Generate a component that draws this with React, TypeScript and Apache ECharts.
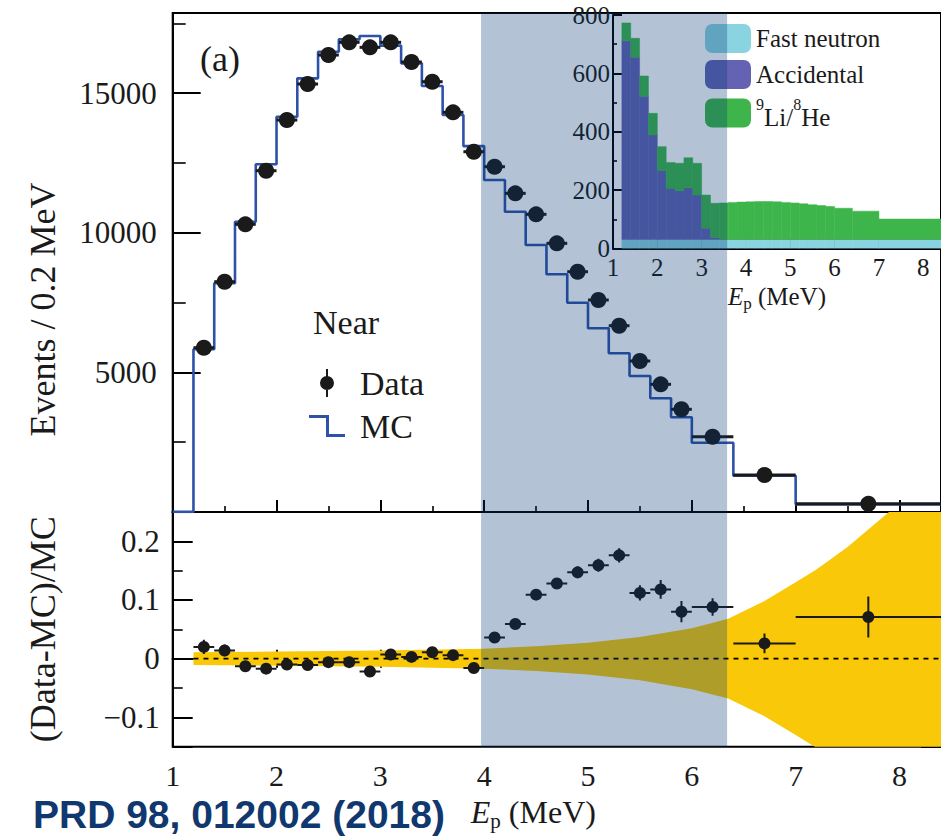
import React, { useEffect, useRef } from 'react';
import * as echarts from 'echarts';

// ---------- data ----------
const xMin = 1;
const xMax = 8.4;
const binLo = [1.2, 1.4, 1.6, 1.8, 2.0, 2.2, 2.4, 2.6, 2.8, 3.0, 3.2, 3.4, 3.6, 3.8, 4.0, 4.2, 4.4, 4.6, 4.8, 5.0, 5.2, 5.4, 5.6, 5.8, 6.0, 6.4, 7.0];
const binHi = [1.4, 1.6, 1.8, 2.0, 2.2, 2.4, 2.6, 2.8, 3.0, 3.2, 3.4, 3.6, 3.8, 4.0, 4.2, 4.4, 4.6, 4.8, 5.0, 5.2, 5.4, 5.6, 5.8, 6.0, 6.4, 7.0, 8.4];
const binCenter = [1.3, 1.5, 1.7, 1.9, 2.1, 2.3, 2.5, 2.7, 2.9, 3.1, 3.3, 3.5, 3.7, 3.9, 4.1, 4.3, 4.5, 4.7, 4.9, 5.1, 5.3, 5.5, 5.7, 5.9, 6.2, 6.7, 7.7];
const dataEvents = [5881, 8245, 10301, 12221, 14036, 15326, 16364, 16819, 16640, 16819, 16114, 15408, 14312, 12901, 12364, 11411, 10659, 9620, 8603, 7590, 6669, 5405, 4570, 3675, 2693, 1322, 290];
const mcEvents = [5824, 8188, 10394, 12450, 14155, 15530, 16483, 16927, 17045, 16700, 16067, 15254, 14216, 13100, 11887, 10752, 9559, 8510, 7493, 6576, 5681, 4867, 4069, 3388, 2479, 1297, 270];
const ratio = [0.020, 0.014, -0.013, -0.017, -0.010, -0.011, -0.006, -0.006, -0.022, 0.007, 0.003, 0.011, 0.006, -0.016, 0.036, 0.059, 0.109, 0.128, 0.147, 0.159, 0.176, 0.112, 0.118, 0.080, 0.088, 0.026, 0.071];
const ratioErr = [0.012, 0.010, 0.008, 0.007, 0.007, 0.007, 0.007, 0.007, 0.007, 0.007, 0.007, 0.007, 0.008, 0.008, 0.008, 0.008, 0.009, 0.009, 0.010, 0.011, 0.012, 0.013, 0.016, 0.018, 0.015, 0.017, 0.035];
// MC uncertainty band (relative), half width vs energy
const bandE = [1.2, 2.0, 3.0, 4.0, 4.5, 5.0, 5.5, 6.0, 6.35, 6.7, 7.0, 7.2, 7.5, 7.9, 8.4];
const bandHalf = [0.011, 0.012, 0.014, 0.017, 0.021, 0.027, 0.037, 0.052, 0.068, 0.098, 0.130, 0.152, 0.190, 0.250, 0.330];
// inset backgrounds (events / bin)
const fastNeutron = [31, 31, 31, 31, 31, 31, 31, 31, 31, 31, 31, 31, 31, 31, 31, 31, 31, 31, 31, 31, 31, 31, 31, 31, 31, 31, 31];
const accidental = [681, 624, 491, 358, 236, 175, 167, 177, 152, 38, 7, 0, 0, 0, 0, 0, 0, 0, 0, 0, 0, 0, 0, 0, 0, 0, 0];
const liHe = [61, 65, 69, 74, 82, 89, 94, 103, 109, 114, 117, 125, 127, 128, 129, 130, 130, 129, 127, 125, 122, 119, 116, 113, 107, 97, 70];
const shadeRange = [3.97, 6.34];

// ---------- styles ----------
const SERIF = '"Liberation Serif", "Times New Roman", serif';
const INK = '#1a1a1a';
const MC_BLUE = '#2d52a8';
const SHADE = 'rgba(2,55,115,0.3)';
const YELLOW = '#f9c909';
const C_FAST = '#8ad3e0';
const C_ACC = '#6462b3';
const C_LI = '#3db54a';

const DATA_ICON = 'path://M0,14 A7,7 0 1 1 14,14 A7,7 0 1 1 0,14 Z M6,0 L8,0 L8,28 L6,28 Z';
const MC_ICON = 'path://M0,0 L20,0 L20,19 L36,19 L36,22 L17,22 L17,3 L0,3 Z';

const axisLineStyle = { color: '#000', width: 2 };
const tickStyle = { color: '#000', width: 2 };
const minorStyle = { color: '#000', width: 1.6 };

function shadeSeries(xi: number, yi: number, name: string) {
  return {
    type: 'custom',
    name,
    xAxisIndex: xi,
    yAxisIndex: yi,
    z: 10,
    silent: true,
    data: [shadeRange],
    encode: { x: [0, 1] },
    renderItem: (params: any, api: any) => {
      const cs = params.coordSys;
      const x0 = api.coord([api.value(0), 0])[0];
      const x1 = api.coord([api.value(1), 0])[0];
      return {
        type: 'rect',
        shape: { x: x0, y: cs.y, width: x1 - x0, height: cs.height },
        style: { fill: SHADE },
      };
    },
  };
}

function histSeries(name: string, color: string, base: number[], vals: number[]) {
  return {
    type: 'custom',
    name,
    xAxisIndex: 3,
    yAxisIndex: 3,
    z: 2,
    clip: true,
    itemStyle: { color },
    encode: { x: [0, 1], y: [2, 3] },
    data: binLo.map((lo, i) => [lo, binHi[i], base[i], base[i] + vals[i]]),
    renderItem: (params: any, api: any) => {
      const p0 = api.coord([api.value(0), api.value(2)]);
      const p1 = api.coord([api.value(1), api.value(3)]);
      return {
        type: 'rect',
        shape: { x: p0[0], y: p1[1], width: p1[0] - p0[0], height: p0[1] - p1[1] },
        style: { fill: color, stroke: color, lineWidth: 0.5 },
      };
    },
  };
}

export default function App() {
  const ref = useRef<HTMLDivElement>(null);
  useEffect(() => {
    const chart = echarts.init(ref.current!, null, { renderer: 'svg' });
    const accBase = fastNeutron.slice();
    const liBase = fastNeutron.map((f, i) => f + accidental[i]);

    const xName = (size: number, sub: number, lh: number) => ({
      fontFamily: SERIF,
      fontSize: size,
      color: INK,
      lineHeight: lh,
      rich: {
        i: { fontFamily: SERIF, fontSize: size, fontStyle: 'italic', color: INK, lineHeight: lh },
        s: { fontFamily: SERIF, fontSize: sub, color: INK, verticalAlign: 'bottom', lineHeight: sub },
      },
    });

    const option: any = {
      animation: false,
      backgroundColor: '#fff',
      grid: [
        { left: 172.7, top: 13, width: 771.8, height: 498.9, show: true, borderColor: '#000', borderWidth: 2 },
        { left: 172.7, top: 511.9, width: 771.8, height: 234.8, show: true, borderColor: '#000', borderWidth: 2 },
        { left: 613, top: 15, width: 333, height: 233.5 },
      ],
      xAxis: [
        {
          gridIndex: 0, type: 'value', min: xMin, max: xMax, interval: 1,
          axisLine: { lineStyle: axisLineStyle },
          axisTick: { inside: true, length: 12, lineStyle: tickStyle },
          minorTick: { show: true, splitNumber: 2, length: 6, lineStyle: minorStyle },
          axisLabel: { show: false }, splitLine: { show: false },
        },
        {
          gridIndex: 1, type: 'value', position: 'bottom', min: xMin, max: xMax, interval: 1,
          axisLine: { lineStyle: axisLineStyle },
          axisTick: { inside: true, length: 9, lineStyle: tickStyle },
          minorTick: { show: true, splitNumber: 2, length: 5, lineStyle: minorStyle },
          axisLabel: { fontFamily: SERIF, fontSize: 30, color: INK, margin: 14, showMaxLabel: false },
          splitLine: { show: false },
          name: '{i|E}{s|p} (MeV)', nameLocation: 'middle', nameGap: 44,
          nameTextStyle: { ...xName(32, 21, 40), padding: [0, 47, 0, 0] },
        },
        {
          gridIndex: 1, type: 'value', position: 'top', min: xMin, max: xMax, interval: 1,
          axisLine: { lineStyle: axisLineStyle },
          axisTick: { inside: true, length: 9, lineStyle: tickStyle },
          minorTick: { show: true, splitNumber: 2, length: 5, lineStyle: minorStyle },
          axisLabel: { show: false }, splitLine: { show: false },
        },
        {
          gridIndex: 2, type: 'value', min: xMin, max: xMax, interval: 1,
          axisLine: { lineStyle: axisLineStyle },
          axisTick: { inside: true, length: 9, lineStyle: tickStyle },
          minorTick: { show: true, splitNumber: 2, length: 4, lineStyle: minorStyle },
          axisLabel: { fontFamily: SERIF, fontSize: 25, color: INK, margin: 6, showMaxLabel: false },
          splitLine: { show: false },
          name: '{i|E}{s|p} (MeV)', nameLocation: 'middle', nameGap: 17,
          nameTextStyle: xName(25, 17, 32),
        },
      ],
      yAxis: [
        {
          gridIndex: 0, type: 'value', min: 0, max: 17870, interval: 5000,
          axisLine: { lineStyle: axisLineStyle },
          axisTick: { inside: true, length: 28, lineStyle: tickStyle },
          minorTick: { show: true, splitNumber: 2, length: 13, lineStyle: minorStyle },
          axisLabel: {
            fontFamily: SERIF, fontSize: 31, color: INK, margin: 16, showMaxLabel: false,
            formatter: (v: number) => (v === 0 ? '' : String(v)),
          },
          splitLine: { show: false },
          name: 'Events / 0.2 MeV', nameLocation: 'middle', nameGap: 112, nameRotate: 90,
          nameTextStyle: { fontFamily: SERIF, fontSize: 36, color: INK, padding: [0, 94, 0, 0] },
        },
        {
          gridIndex: 1, type: 'value', min: -0.15, max: 0.25, splitNumber: 4,
          axisLine: { lineStyle: axisLineStyle },
          axisTick: { inside: true, length: 20, lineStyle: tickStyle },
          minorTick: { show: true, splitNumber: 2, length: 10, lineStyle: minorStyle },
          axisLabel: {
            fontFamily: SERIF, fontSize: 31, color: INK, margin: 13, showMinLabel: false, showMaxLabel: false,
            formatter: (v: number) => {
              const r = Math.round(v * 100) / 100;
              return r < 0 ? '\u2212' + Math.abs(r) : String(Math.abs(r));
            },
          },
          splitLine: { show: false },
          name: '(Data-MC)/MC', nameLocation: 'middle', nameGap: 112, nameRotate: 90,
          nameTextStyle: { fontFamily: SERIF, fontSize: 36, color: INK },
        },
        {
          gridIndex: 1, type: 'value', position: 'right', min: -0.15, max: 0.25, splitNumber: 4,
          axisLine: { lineStyle: axisLineStyle },
          axisTick: { inside: true, length: 20, lineStyle: tickStyle },
          minorTick: { show: true, splitNumber: 2, length: 10, lineStyle: minorStyle },
          axisLabel: { show: false }, splitLine: { show: false },
        },
        {
          gridIndex: 2, type: 'value', min: 0, max: 800, interval: 200,
          axisLine: { lineStyle: axisLineStyle },
          axisTick: { inside: true, length: 9, lineStyle: tickStyle },
          minorTick: { show: true, splitNumber: 2, length: 4, lineStyle: minorStyle },
          axisLabel: { fontFamily: SERIF, fontSize: 25, color: INK, margin: 3 },
          splitLine: { show: false },
        },
      ],
      legend: [
        {
          data: [{ name: 'Data', icon: DATA_ICON }, { name: 'MC', icon: MC_ICON }],
          orient: 'vertical', left: 309, top: 366, padding: 0, itemWidth: 36, itemHeight: 28, itemGap: 9,
          selectedMode: false, symbolKeepAspect: true,
          itemStyle: { borderWidth: 0 },
          textStyle: { fontFamily: SERIF, fontSize: 34, color: INK, padding: [0, 0, 0, 10] },
        },
        {
          data: ['Fast neutron', 'Accidental', '9Li/8He'],
          orient: 'vertical', left: 705, top: 24, padding: 0, itemWidth: 46, itemHeight: 29, itemGap: 7,
          icon: 'roundRect', selectedMode: false,
          itemStyle: { borderWidth: 0 },
          formatter: (n: string) => (n === '9Li/8He' ? '{sup|9}{n|Li/}{sup|8}{n|He}' : n),
          textStyle: {
            fontFamily: SERIF, fontSize: 25, color: INK,
            rich: {
              sup: { fontFamily: SERIF, fontSize: 16, color: INK, verticalAlign: 'top', lineHeight: 16 },
              n: { fontFamily: SERIF, fontSize: 25, color: INK, verticalAlign: 'bottom', lineHeight: 34 },
            },
          },
        },
      ],
      graphic: [
        { type: 'text', left: 200, top: 41, z: 3, style: { text: '(a)', fontFamily: SERIF, fontSize: 36, fill: INK } },
        { type: 'text', left: 313, top: 305, z: 3, style: { text: 'Near', fontFamily: SERIF, fontSize: 34, fill: INK } },
        {
          type: 'text', left: 33, top: 795, z: 3,
          style: { text: 'PRD 98, 012002 (2018)', fontFamily: '"Liberation Sans", Arial, sans-serif', fontWeight: 'bold', fontSize: 39, fill: '#10386e' },
        },
      ],
      series: [
        // MC uncertainty band
        {
          type: 'custom', name: 'band', xAxisIndex: 1, yAxisIndex: 1, z: 1, clip: true, silent: true,
          data: [[bandE[0], 0]],
          renderItem: (params: any, api: any) => {
            if (params.dataIndex !== 0) return null;
            const up = bandE.map((e, i) => api.coord([e, bandHalf[i]]));
            const lo = bandE.map((e, i) => api.coord([e, -bandHalf[i]])).reverse();
            return { type: 'polygon', shape: { points: up.concat(lo) }, style: { fill: YELLOW } };
          },
        },
        // zero reference line
        {
          type: 'line', name: 'zero', xAxisIndex: 1, yAxisIndex: 1, z: 2, symbol: 'none', silent: true,
          data: [[binLo[0], 0], [binHi[binHi.length - 1], 0]],
          lineStyle: { color: '#000', width: 1.6, type: [5, 5] },
        },
        // MC histogram
        {
          type: 'line', name: 'MC', xAxisIndex: 0, yAxisIndex: 0, z: 3, step: 'end', symbol: 'none',
          data: [[xMin, 0], ...binLo.map((x, i) => [x, mcEvents[i]]), [binHi[binHi.length - 1], mcEvents[mcEvents.length - 1]]],
          lineStyle: { color: MC_BLUE, width: 2.6 },
          itemStyle: { color: MC_BLUE },
        },
        // data x error bars (top)
        {
          type: 'custom', name: 'dataErr', xAxisIndex: 0, yAxisIndex: 0, z: 4, clip: true,
          encode: { x: [0, 1], y: 2 },
          data: binLo.map((lo, i) => [lo, binHi[i], dataEvents[i]]),
          renderItem: (params: any, api: any) => {
            const p0 = api.coord([api.value(0), api.value(2)]);
            const p1 = api.coord([api.value(1), api.value(2)]);
            return { type: 'line', shape: { x1: p0[0], y1: p0[1], x2: p1[0], y2: p1[1] }, style: { stroke: INK, lineWidth: 3 } };
          },
        },
        {
          type: 'scatter', name: 'Data', xAxisIndex: 0, yAxisIndex: 0, z: 5, symbol: 'circle', symbolSize: 16,
          data: binCenter.map((x, i) => [x, dataEvents[i]]),
          itemStyle: { color: INK, opacity: 1 },
        },
        // ratio error bars
        {
          type: 'custom', name: 'ratioErr', xAxisIndex: 1, yAxisIndex: 1, z: 4, clip: true,
          encode: { x: [0, 1, 2], y: 3 },
          data: binLo.map((lo, i) => [lo, binHi[i], binCenter[i], ratio[i], ratioErr[i]]),
          renderItem: (params: any, api: any) => {
            const y = api.value(3);
            const e = api.value(4);
            const a = api.coord([api.value(0), y]);
            const b = api.coord([api.value(1), y]);
            const c0 = api.coord([api.value(2), y - e]);
            const c1 = api.coord([api.value(2), y + e]);
            return {
              type: 'group',
              children: [
                { type: 'line', shape: { x1: a[0], y1: a[1], x2: b[0], y2: b[1] }, style: { stroke: INK, lineWidth: 2 } },
                { type: 'line', shape: { x1: c0[0], y1: c0[1], x2: c1[0], y2: c1[1] }, style: { stroke: INK, lineWidth: 2 } },
              ],
            };
          },
        },
        {
          type: 'scatter', name: 'ratio', xAxisIndex: 1, yAxisIndex: 1, z: 5, symbol: 'circle', symbolSize: 12,
          data: binCenter.map((x, i) => [x, ratio[i]]),
          itemStyle: { color: INK, opacity: 1 },
        },
        // inset stacked backgrounds
        histSeries('Fast neutron', C_FAST, fastNeutron.map(() => 0), fastNeutron),
        histSeries('Accidental', C_ACC, accBase, accidental),
        histSeries('9Li/8He', C_LI, liBase, liHe),
        // highlighted energy window
        shadeSeries(0, 0, 'shadeTop'),
        shadeSeries(1, 1, 'shadeBottom'),
      ],
    };
    chart.setOption(option);
    return () => chart.dispose();
  }, []);
  return (
    <div
      ref={ref}
      style={{ position: 'absolute', left: 0, top: 0, width: 941, height: 837, background: '#fff' }}
    />
  );
}
